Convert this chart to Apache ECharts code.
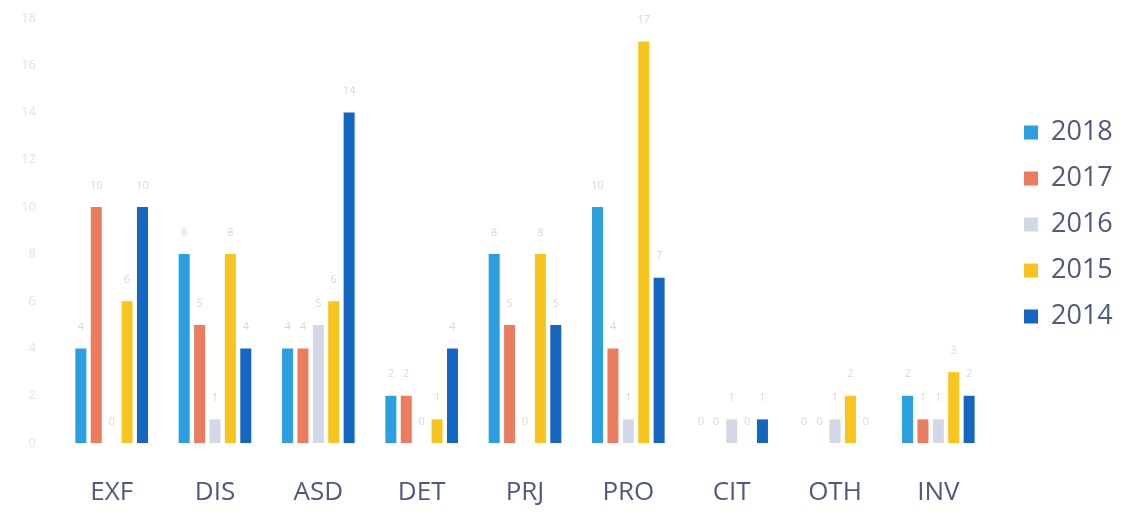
<!DOCTYPE html>
<html><head><meta charset="utf-8">
<script src="https://cdn.jsdelivr.net/npm/echarts@6/dist/echarts.min.js"></script>
<style>html,body{margin:0;padding:0;background:#fff}#c{width:1131px;height:512px}</style>
</head><body><div id="c"></div>
<script>
const categories = ['EXF','DIS','ASD','DET','PRJ','PRO','CIT','OTH','INV'];
const seriesNames = ['2018','2017','2016','2015','2014'];
const v2018 = [4, 8, 4, 2, 8, 10, 0, 0, 2];
const v2017 = [10, 5, 4, 2, 5, 4, 0, 0, 1];
const v2016 = [0, 1, 5, 0, 0, 1, 1, 1, 1];
const v2015 = [6, 8, 6, 1, 8, 17, 0, 2, 3];
const v2014 = [10, 4, 14, 4, 5, 7, 1, 0, 2];
const yTicks = [0,2,4,6,8,10,12,14,16,18];
const colors = ['#2b9fdf','#ec7c60','#d3d8e6','#f7c51e','#1466c1'];
const values = [v2018, v2017, v2016, v2015, v2014];

const chart = echarts.init(document.getElementById('c'));
chart.setOption({
  animation:false,
  color: colors,
  legend:{
    orient:'vertical', left:1019, top:114, itemGap:19, itemWidth:14, itemHeight:14,
    icon:'rect',
    textStyle:{fontFamily:'Open Sans', fontSize:27, color:'#4f5a7c', padding:[0,0,0,8]},
    data: seriesNames
  },
  grid:{left:60, right:141, top:18, bottom:69},
  xAxis:{
    type:'category', data:categories,
    axisLine:{show:false}, axisTick:{show:false},
    axisLabel:{fontFamily:'Open Sans', fontSize:26, color:'#4f5a7c', margin:37}
  },
  yAxis:{
    type:'value', min:0, max:18, interval:2,
    splitLine:{show:false}, axisLine:{show:false}, axisTick:{show:false},
    axisLabel:{fontFamily:'Open Sans', fontSize:13, color:'#e2e2e2', margin:24}
  },
  series: seriesNames.map((n,i)=>({
    name:n, type:'bar', data:values[i], barWidth:11, barGap:'40%',
    label:{show:true, position:'top', distance:16, fontSize:11, color:'#d8d8d8', fontFamily:'Open Sans'}
  }))
});
</script></body></html>
